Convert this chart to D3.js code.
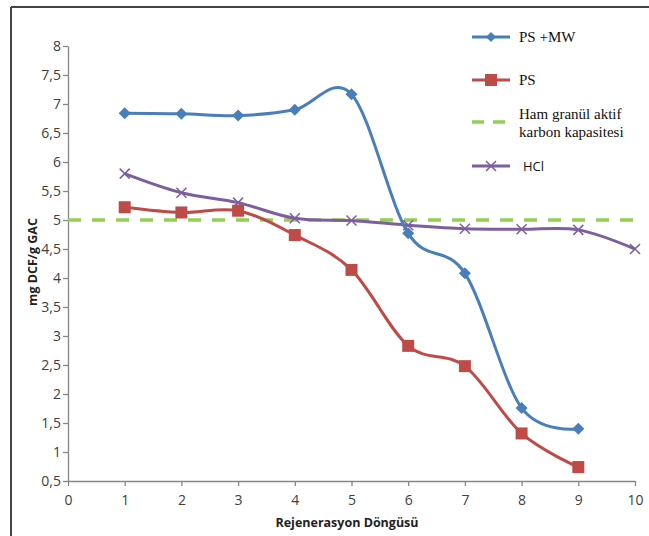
<!DOCTYPE html>
<html>
<head>
<meta charset="utf-8">
<script src="https://cdn.jsdelivr.net/npm/d3@7"></script>
<style>
  body { margin: 0; background: #fff; }
  svg { display: block; }
</style>
</head>
<body>
<div id="chart"></div>
<script>
// data
var cycles = [1, 2, 3, 4, 5, 6, 7, 8, 9];
var cyclesHcl = [1, 2, 3, 4, 5, 6, 7, 8, 9, 10];
var psMw = [6.84, 6.83, 6.80, 6.90, 7.17, 4.77, 4.08, 1.76, 1.40];
var ps = [5.22, 5.13, 5.16, 4.74, 4.14, 2.83, 2.48, 1.32, 0.74];
var hcl = [5.80, 5.47, 5.30, 5.03, 4.99, 4.91, 4.85, 4.84, 4.83, 4.50];
var rawCapacity = 5;
var xTicks = [0, 1, 2, 3, 4, 5, 6, 7, 8, 9, 10];
var yTicks = [0.5, 1, 1.5, 2, 2.5, 3, 3.5, 4, 4.5, 5, 5.5, 6, 6.5, 7, 7.5, 8];

var W = 649, H = 536;
var margin = {top: 46, right: 14, bottom: 55, left: 68};
var width = 635 - margin.left,
    height = 481 - margin.top;

var svg = d3.select("#chart").append("svg")
    .attr("width", W)
    .attr("height", H);

// outer frame (only top and left edges visible)
svg.append("line").attr("x1", 11).attr("x2", W).attr("y1", 7).attr("y2", 7)
    .attr("stroke", "#444").attr("stroke-width", 2);
svg.append("line").attr("x1", 11).attr("x2", 11).attr("y1", 7).attr("y2", H)
    .attr("stroke", "#444").attr("stroke-width", 2);

var g = svg.append("g")
    .attr("transform", "translate(" + margin.left + "," + margin.top + ")");

var x = d3.scaleLinear().domain([0, 10]).range([0, width]);
var y = d3.scaleLinear().domain([0.5, 8]).range([height, 0]);

var fmt = function (d) { return String(d).replace(".", ","); };

// axes
var xAxis = g.append("g")
    .attr("transform", "translate(0," + height + ")")
    .call(d3.axisBottom(x).tickValues(xTicks).tickSize(5).tickSizeOuter(0).tickFormat(fmt));
var yAxis = g.append("g")
    .call(d3.axisLeft(y).tickValues(yTicks).tickSize(5).tickSizeOuter(0).tickFormat(fmt));

[xAxis, yAxis].forEach(function (a) {
  a.select(".domain").attr("stroke", "#868686").attr("stroke-width", 1.3);
  a.selectAll(".tick line").attr("stroke", "#868686").attr("stroke-width", 1.3);
  a.selectAll(".tick text")
      .attr("fill", "#404040")
      .style("font-family", "'Open Sans', 'Liberation Sans', sans-serif")
      .style("font-size", "14px");
});
xAxis.selectAll(".tick text").attr("dy", "1.15em");
yAxis.selectAll(".tick text").attr("x", -7);

// axis titles
svg.append("text")
    .attr("x", 347).attr("y", 527)
    .attr("text-anchor", "middle")
    .style("font-family", "'Open Sans', 'Liberation Sans', sans-serif")
    .style("font-size", "12.5px").style("font-weight", "bold")
    .attr("fill", "#222")
    .text("Rejenerasyon Döngüsü");
svg.append("text")
    .attr("transform", "translate(37,262) rotate(-90)")
    .attr("text-anchor", "middle")
    .style("font-family", "'Open Sans', 'Liberation Sans', sans-serif")
    .style("font-size", "12.5px").style("font-weight", "bold")
    .attr("fill", "#222")
    .text("mg DCF/g GAC");

// reference capacity line
var green = "#92d050";
g.append("line")
    .attr("x1", x(0)).attr("x2", x(10))
    .attr("y1", y(rawCapacity)).attr("y2", y(rawCapacity))
    .attr("stroke", green).attr("stroke-width", 3.5)
    .attr("stroke-dasharray", "13,11");

var line = d3.line()
    .x(function (d) { return x(d[0]); })
    .y(function (d) { return y(d[1]); })
    .curve(d3.curveCardinal.tension(0));

var series = [
  {name: "HCl", xs: cyclesHcl, ys: hcl, color: "#7d5fa0", marker: "x"},
  {name: "PS", xs: cycles, ys: ps, color: "#be4b48", marker: "square"},
  {name: "PS +MW", xs: cycles, ys: psMw, color: "#4a7ebb", marker: "diamond"}
];

function drawMarker(sel, type, color) {
  if (type === "square") {
    sel.append("rect").attr("x", -6).attr("y", -6).attr("width", 12).attr("height", 12)
        .attr("fill", color);
  } else if (type === "diamond") {
    sel.append("path").attr("d", "M0,-6L6,0L0,6L-6,0Z").attr("fill", color);
  } else {
    sel.append("path").attr("d", "M-5,-5L5,5M-5,5L5,-5")
        .attr("stroke", color).attr("stroke-width", 1.5).attr("fill", "none");
  }
}

series.forEach(function (s) {
  var pts = s.xs.map(function (v, i) { return [v, s.ys[i]]; });
  g.append("path")
      .datum(pts)
      .attr("d", line)
      .attr("fill", "none")
      .attr("stroke", s.color)
      .attr("stroke-width", 3);
  g.append("g").selectAll("g")
      .data(pts)
      .enter().append("g")
      .attr("transform", function (d) { return "translate(" + x(d[0]) + "," + y(d[1]) + ")"; })
      .each(function () { drawMarker(d3.select(this), s.marker, s.color); });
});

// legend
var legend = [
  {label: ["PS +MW"], color: "#4a7ebb", marker: "diamond", y: 37, serif: true},
  {label: ["PS"], color: "#be4b48", marker: "square", y: 80, serif: true},
  {label: ["Ham granül aktif", "karbon kapasitesi"], color: green, marker: "dash", y: 122, serif: true},
  {label: ["HCl"], color: "#7d5fa0", marker: "x", y: 166, serif: false}
];
legend.forEach(function (l) {
  var lg = svg.append("g");
  if (l.marker === "dash") {
    lg.append("line").attr("x1", 472).attr("x2", 510).attr("y1", l.y).attr("y2", l.y)
        .attr("stroke", l.color).attr("stroke-width", 3.5).attr("stroke-dasharray", "12,9");
  } else {
    lg.append("line").attr("x1", 472).attr("x2", 510).attr("y1", l.y).attr("y2", l.y)
        .attr("stroke", l.color).attr("stroke-width", 3);
    var m = lg.append("g").attr("transform", "translate(491," + l.y + ")");
    if (l.marker === "diamond") {
      m.append("path").attr("d", "M0,-5L5,0L0,5L-5,0Z").attr("fill", l.color);
    } else {
      drawMarker(m, l.marker, l.color);
    }
  }
  var t = lg.append("text")
      .attr("x", l.serif ? 519 : 523)
      .attr("y", l.label.length > 1 ? l.y - 3 : l.y + 5)
      .attr("fill", "#111")
      .style("font-family", l.serif ? "'Liberation Serif', serif" : "'Open Sans', 'Liberation Sans', sans-serif")
      .style("font-size", l.serif ? "15px" : "13px");
  l.label.forEach(function (s, i) {
    t.append("tspan").attr("x", l.serif ? 519 : 523).attr("dy", i === 0 ? 0 : 18).text(s);
  });
});
</script>
</body>
</html>
